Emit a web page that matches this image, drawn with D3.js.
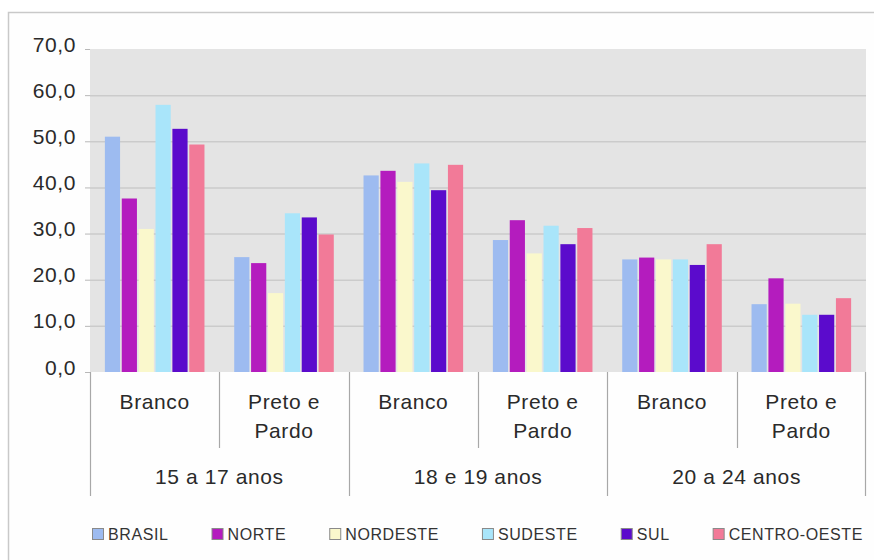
<!DOCTYPE html>
<html><head><meta charset="utf-8">
<script src="https://cdn.jsdelivr.net/npm/d3@7"></script>
<style>
html,body{margin:0;padding:0;background:#fff;}
svg{display:block;font-family:"Liberation Sans",Arial,sans-serif;}
</style></head>
<body>
<svg id="chart" width="874" height="560"></svg>
<script>
// ---- data ----
const ageGroups = ["15 a 17 anos", "18 e 19 anos", "20 a 24 anos"];
const raceGroups = ["Branco", "Preto e Pardo"];
const regions = ["BRASIL", "NORTE", "NORDESTE", "SUDESTE", "SUL", "CENTRO-OESTE"];
// values in order: (15-17 Branco, 15-17 Preto e Pardo, 18-19 Branco, 18-19 Preto e Pardo, 20-24 Branco, 20-24 Preto e Pardo)
const brasil      = [51.0, 24.9, 42.6, 28.6, 24.4, 14.7];
const norte       = [37.6, 23.6, 43.6, 32.9, 24.8, 20.3];
const nordeste    = [31.0, 17.1, 41.2, 25.7, 24.4, 14.8];
const sudeste     = [57.9, 34.4, 45.2, 31.7, 24.4, 12.4];
const sul         = [52.7, 33.5, 39.4, 27.7, 23.2, 12.4];
const centroOeste = [49.3, 29.8, 44.9, 31.2, 27.7, 16.0];
const yTicks = [0, 10, 20, 30, 40, 50, 60, 70];

const seriesValues = [brasil, norte, nordeste, sudeste, sul, centroOeste];
const colors = ["#9dbbf0", "#b41cbe", "#faf8cc", "#a9e5fa", "#5b0bcc", "#f27a98"];

// ---- layout ----
const svg = d3.select("#chart");
const mLeft = 90, mRight = 866, mTop = 49, mBottom = 372;

// frame
svg.append("rect").attr("x", 8.5).attr("y", 12.5).attr("width", 900).attr("height", 600)
  .attr("fill", "#fefefe").attr("stroke", "#c9c9c9").attr("stroke-width", 1.5);

const cats = [];
ageGroups.forEach(a => raceGroups.forEach(r => cats.push(a + "|" + r)));

const x0 = d3.scaleBand().domain(cats).range([mLeft, mRight]).padding(0);
const bw = x0.bandwidth();
const x1 = d3.scaleBand().domain(regions).range([bw * 0.115, bw * 0.885]).paddingInner(0.1).paddingOuter(0);
const y = d3.scaleLinear().domain([0, 70]).range([mBottom, mTop]);

// plot background
svg.append("rect").attr("x", mLeft).attr("y", mTop).attr("width", mRight - mLeft).attr("height", mBottom - mTop)
  .attr("fill", "#e4e4e4");

// gridlines
svg.append("g").selectAll("line").data(yTicks.filter(t => t > 0 && t < 70)).join("line")
  .attr("x1", mLeft).attr("x2", mRight)
  .attr("y1", d => y(d) + 0.5).attr("y2", d => y(d) + 0.5)
  .attr("stroke", "#cbcbcb").attr("stroke-width", 1.5);

// y axis (ticks + labels)
const fmt = d => d3.format(".1f")(d).replace(".", ",");
const yAxis = d3.axisLeft(y).tickValues(yTicks).tickFormat(fmt).tickSize(5).tickPadding(9);
const gy = svg.append("g").attr("transform", `translate(${mLeft},0)`).call(yAxis);
gy.select(".domain").remove();
gy.selectAll(".tick line").attr("stroke", "#b8b8b8");
gy.selectAll(".tick text").attr("fill", "#2a2a2a").attr("font-size", 21)
  .attr("font-family", "Liberation Sans, Arial, sans-serif")
  .attr("letter-spacing", "0.6px").attr("dy", "0.1em");

// bars
const barData = [];
regions.forEach((reg, si) => {
  cats.forEach((c, ci) => barData.push({cat: c, region: reg, value: seriesValues[si][ci], color: colors[si]}));
});
svg.append("g").selectAll("rect").data(barData).join("rect")
  .attr("x", d => x0(d.cat) + x1(d.region))
  .attr("width", x1.bandwidth())
  .attr("y", d => y(d.value))
  .attr("height", d => mBottom - y(d.value))
  .attr("fill", d => d.color);

// category axis: dividers
const axisG = svg.append("g");
cats.forEach((c, i) => {
  const isGroupStart = i % 2 === 0;
  axisG.append("line")
    .attr("x1", Math.round(x0(c)) + 0.5).attr("x2", Math.round(x0(c)) + 0.5)
    .attr("y1", mBottom).attr("y2", isGroupStart ? 496 : 448)
    .attr("stroke", "#a8a8a8").attr("stroke-width", 1.2);
});
axisG.append("line").attr("x1", mRight - 0.5).attr("x2", mRight - 0.5).attr("y1", mBottom).attr("y2", 496)
  .attr("stroke", "#a8a8a8").attr("stroke-width", 1.2);

// race labels
const textStyle = s => s.attr("font-size", 21).attr("fill", "#2a2a2a").attr("letter-spacing", "0.6px")
  .attr("text-anchor", "middle");
cats.forEach(c => {
  const race = c.split("|")[1];
  const cx = x0(c) + bw / 2;
  const words = race === "Preto e Pardo" ? ["Preto e", "Pardo"] : [race];
  words.forEach((w, k) => {
    axisG.append("text").attr("x", cx).attr("y", 409 + k * 29).text(w).call(textStyle);
  });
});
// age group labels
ageGroups.forEach((a, i) => {
  const cx = x0(a + "|" + raceGroups[0]) + bw;
  axisG.append("text").attr("x", cx).attr("y", 484).text(a).call(textStyle);
});

// legend
const leg = svg.append("g");
let lx = 92;
regions.forEach((reg, i) => {
  const g = leg.append("g").attr("transform", `translate(${lx},0)`);
  g.append("rect").attr("x", 0.5).attr("y", 528.5).attr("width", 11).attr("height", 11)
    .attr("fill", colors[i]).attr("stroke", "#8a8a8a").attr("stroke-width", 1);
  const t = g.append("text").attr("x", 16).attr("y", 540).text(reg)
    .attr("font-size", 16).attr("fill", "#333").attr("letter-spacing", "0.6px");
  const w = t.node().getComputedTextLength();
  lx += 16 + w + 43;
});
</script>
</body></html>
